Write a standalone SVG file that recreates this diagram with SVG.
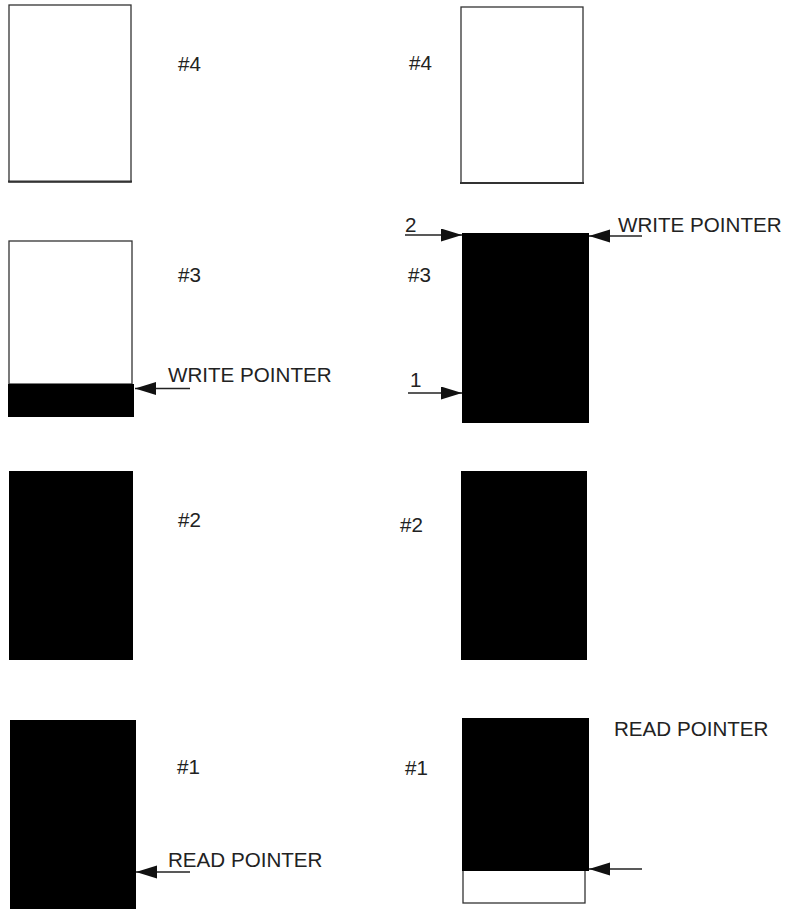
<svg xmlns="http://www.w3.org/2000/svg" width="788" height="909" viewBox="0 0 788 909">
<style>
.box{fill:#fff;stroke:#333;stroke-width:1.3}
.base{stroke:#333;stroke-width:2}
.full{fill:#000}
.lbl{font-family:"Liberation Sans",Arial,sans-serif;font-size:20.6px;fill:#222}
.arr{stroke:#222;stroke-width:1.4;fill:none;marker-end:url(#ah)}
</style>
<defs>
<marker id="ah" markerUnits="userSpaceOnUse" markerWidth="22" markerHeight="14" refX="21" refY="6.5" orient="auto">
<path d="M0,0 L21,6.5 L0,13 Z" fill="#111"/>
</marker>
</defs>
<rect width="788" height="909" fill="#fff"/>
<!-- left column -->
<g id="L4">
<rect class="box" x="9" y="5" width="122" height="177"/>
<line class="base" x1="8" y1="181.5" x2="132" y2="181.5"/>
<text class="lbl" x="178" y="71">#4</text>
</g>
<g id="L3">
<rect class="box" x="9" y="241" width="123" height="143"/>
<rect class="full" x="8" y="384" width="126" height="33"/>
<text class="lbl" x="178" y="282">#3</text>
<text class="lbl" x="168" y="382">WRITE POINTER</text>
</g>
<g id="L2">
<rect class="full" x="9" y="471" width="124" height="189"/>
<text class="lbl" x="178" y="527">#2</text>
</g>
<g id="L1">
<rect class="full" x="10" y="720" width="126" height="189"/>
<text class="lbl" x="177" y="774">#1</text>
<text class="lbl" x="168" y="867">READ POINTER</text>
</g>
<!-- right column -->
<g id="R4">
<rect class="box" x="461" y="7" width="122" height="176"/>
<line class="base" x1="460" y1="183" x2="584" y2="183"/>
<text class="lbl" x="409" y="70">#4</text>
</g>
<g id="R3">
<rect class="full" x="462" y="233" width="127" height="190"/>
<text class="lbl" x="408" y="282">#3</text>
<text class="lbl" x="618" y="232">WRITE POINTER</text>
<text class="lbl" x="405" y="232">2</text>
<text class="lbl" x="410" y="387">1</text>
</g>
<g id="R2">
<rect class="full" x="461" y="471" width="126" height="189"/>
<text class="lbl" x="400" y="532">#2</text>
</g>
<g id="R1">
<rect class="box" x="463" y="860" width="122" height="43"/>
<rect class="full" x="462" y="718" width="127" height="153"/>
<text class="lbl" x="405" y="775">#1</text>
<text class="lbl" x="614" y="736">READ POINTER</text>
</g>
<g id="connectors">
<line class="arr" x1="190" y1="388.5" x2="135" y2="388.5"/>
<line class="arr" x1="190" y1="872" x2="136" y2="872"/>
<line class="arr" x1="642" y1="236" x2="589" y2="236"/>
<line class="arr" x1="642" y1="869" x2="589" y2="869"/>
<line class="arr" x1="405" y1="235" x2="462" y2="235"/>
<line class="arr" x1="408" y1="393" x2="462" y2="393"/>
</g>
</svg>
